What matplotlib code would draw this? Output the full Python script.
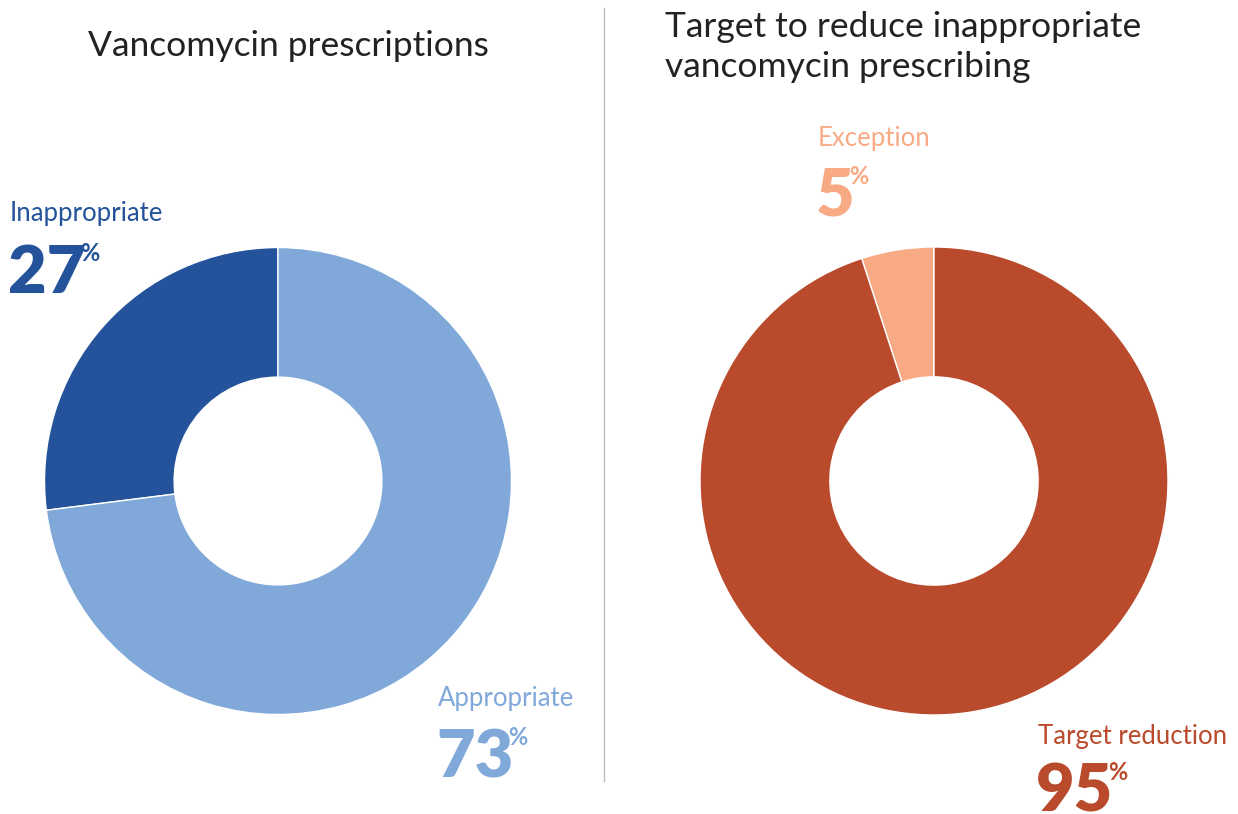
import matplotlib
matplotlib.use("Agg")
from matplotlib import pyplot as plt
from matplotlib.lines import Line2D

W, H = 1238, 814

left_labels = ["Inappropriate", "Appropriate"]
left_values = [27, 73]
left_colors = ["#24539B", "#80A9DA"]

right_labels = ["Exception", "Target reduction"]
right_values = [5, 95]
right_colors = ["#F8AA84", "#B94A2C"]

plt.rcParams['font.family'] = ['Lato', 'DejaVu Sans']


def fx(px):
    return px / W


def fy(py):
    return 1 - py / H


def add_donut(fig, cx, cy, r, values, colors):
    ax = fig.add_axes([fx(cx - r), fy(cy + r), 2 * r / W, 2 * r / H])
    ax.pie(values, colors=colors, startangle=90, counterclock=True,
           radius=1, wedgeprops=dict(width=0.555, edgecolor="white", linewidth=1))
    ax.set_xlim(-1, 1)
    ax.set_ylim(-1, 1)
    ax.set_aspect('equal')
    ax.axis('off')
    return ax


def add_label(fig, x, y_label, y_num, label, value, color):
    fig.text(fx(x), fy(y_label), label, fontsize=18.5, color=color,
             ha='left', va='baseline')
    num = fig.text(fx(x - 2), fy(y_num), str(value), fontsize=48,
                   fontweight='heavy', color=color, ha='left', va='baseline')
    # small superscript percent sign tucked against the big number
    plt.annotate("%", xy=(1, 1), xycoords=num, xytext=(-4, 1),
                 textcoords='offset points', fontsize=17, fontweight='bold',
                 color=color, ha='left', va='top')


fig = plt.figure(figsize=(W / 100, H / 100), dpi=100)

add_donut(fig, 278, 481, 233.5, left_values, left_colors)
add_donut(fig, 934, 481, 234, right_values, right_colors)

fig.text(fx(288), fy(46), "Vancomycin prescriptions", fontsize=25.5,
         color="#222222", ha='center', va='center')
fig.text(fx(665), fy(47), "Target to reduce inappropriate\nvancomycin prescribing",
         fontsize=25.5, color="#222222", ha='left', va='center', linespacing=1.3)

fig.add_artist(Line2D([fx(604), fx(604)], [fy(8), fy(781)],
                      color="#BBBBBB", linewidth=1))

add_label(fig, 10, 221, 293, left_labels[0], left_values[0], left_colors[0])
add_label(fig, 438, 706, 777, left_labels[1], left_values[1], left_colors[1])
add_label(fig, 818, 146, 216, right_labels[0], right_values[0], right_colors[0])
add_label(fig, 1038, 744, 812, right_labels[1], right_values[1], right_colors[1])

fig.savefig("out.png", dpi=100)
